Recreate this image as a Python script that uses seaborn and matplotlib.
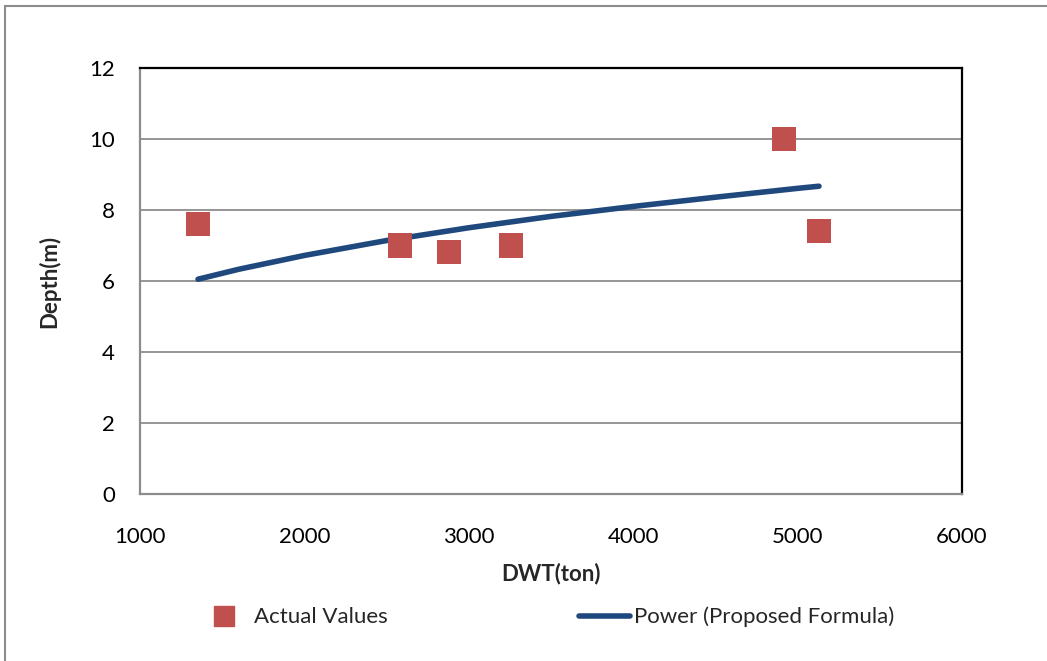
import numpy as np
import matplotlib
matplotlib.use('Agg')
import matplotlib.pyplot as plt
import pandas as pd
import seaborn as sns
from matplotlib.lines import Line2D

## datos
dwt = [1353, 2581, 2880, 3257, 4917, 5130]
depth = [7.6, 7.0, 6.82, 7.0, 10.0, 7.41]

# curva potencial (leida sobre la linea)
curve_dwt = [1353, 1600, 2000, 2500, 3000, 3500, 4000, 4500, 5000, 5130]
curve_depth = [6.05, 6.33, 6.72, 7.14, 7.50, 7.82, 8.10, 8.36, 8.61, 8.67]

xticks = [1000, 2000, 3000, 4000, 5000, 6000]
yticks = [0, 2, 4, 6, 8, 10, 12]

pts = pd.DataFrame({'DWT': dwt, 'Depth': depth})
cur = pd.DataFrame({'DWT': curve_dwt, 'Depth': curve_depth})

sns.set_theme(style='white')
plt.rcParams['font.family'] = ['Lato', 'DejaVu Sans']

fig = plt.figure(figsize=(10.47, 6.61), dpi=100)
ax = fig.add_axes([140/1047, 1-494/661, (962-140)/1047, (494-68)/661])

for y in yticks[1:-1]:
    ax.axhline(y, color='#8c8c8c', lw=1.3, zorder=0)

sns.lineplot(data=cur, x='DWT', y='Depth', ax=ax, color='#1F497D', lw=4,
             solid_capstyle='round', zorder=3)
sns.scatterplot(data=pts, x='DWT', y='Depth', ax=ax, marker='s', s=300,
                color='#C0504D', edgecolor='none', zorder=4)

ax.set_xlim(1000, 6000)
ax.set_ylim(0, 12)
ax.set_xticks(xticks)
ax.set_yticks(yticks)
ax.tick_params(labelsize=16, length=0, colors='black')
ax.tick_params(axis='x', pad=24)
ax.tick_params(axis='y', pad=18)
ax.set_xlabel('DWT(ton)', fontsize=16, weight='bold', labelpad=11)
ax.set_ylabel('Depth(m)', fontsize=16, weight='bold', labelpad=21)

ax.spines['left'].set_color('#8c8c8c')
ax.spines['bottom'].set_color('#8c8c8c')
ax.spines['top'].set_color('black')
ax.spines['right'].set_color('black')
for s in ax.spines.values():
    s.set_linewidth(1.6)
    s.set_visible(True)

# leyenda
handles = [Line2D([], [], marker='s', ls='none', color='#C0504D', markersize=14),
           Line2D([], [], color='#1F497D', lw=4, solid_capstyle='round')]
fig.legend(handles, ['Actual Values', 'Power (Proposed Formula)'], loc='center',
           bbox_to_anchor=(0.522, 1-617/661), ncol=2, frameon=False, fontsize=16,
           handlelength=2.3, handletextpad=0.2, columnspacing=8.6)

# borde exterior
fig.add_artist(Line2D([5/1047, 5/1047], [0, 1-6/661], color='#8c8c8c', lw=1.5))
fig.add_artist(Line2D([5/1047, 1], [1-6/661, 1-6/661], color='#8c8c8c', lw=1.5))

fig.savefig('out.png', dpi=100)
